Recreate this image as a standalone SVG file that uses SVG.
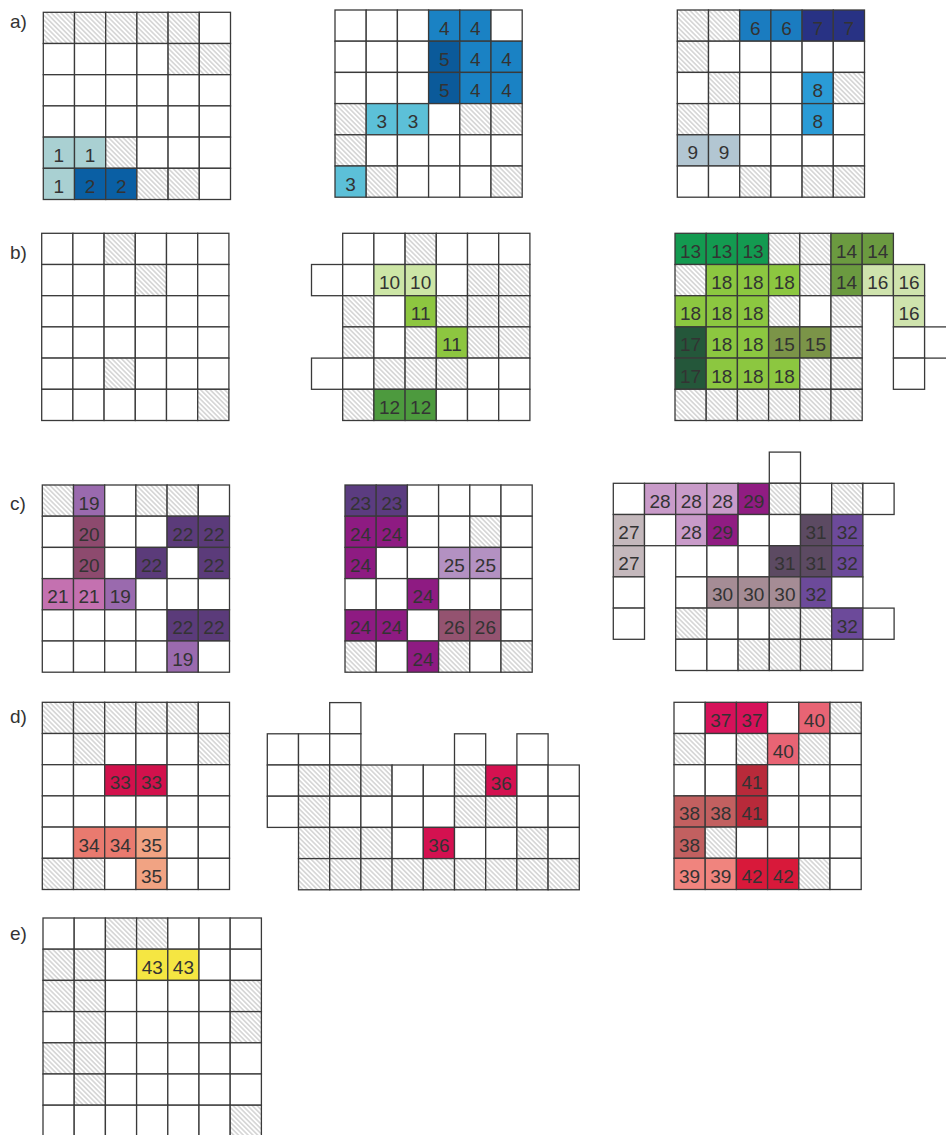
<svg xmlns="http://www.w3.org/2000/svg" width="946" height="1135" viewBox="0 0 946 1135">
<style>
.grid rect{stroke:#3a3a3a;stroke-width:1.3}
.w{fill:#fff}.h{fill:url(#hatch)}
.k1{fill:#a9d0d2}.k2{fill:#0a5fa4}.k3{fill:#5cc0d8}.k4{fill:#1a82c4}.k5{fill:#0b5a9a}
.k6{fill:#1a7cc0}.k7{fill:#283284}.k8{fill:#2a9bd6}.k9{fill:#b2c6d2}
.k10{fill:#cde6a6}.k11{fill:#8dc640}.k12{fill:#4d9a3e}.k13{fill:#139a50}.k14{fill:#6b9a40}
.k15{fill:#7b9448}.k16{fill:#cfe3ad}.k17{fill:#24573a}.k18{fill:#8cc740}
.k19{fill:#9a6aae}.k20{fill:#8d4a6e}.k21{fill:#c471b0}.k22{fill:#5b3b7a}.k23{fill:#5b3c80}
.k24{fill:#8e1b82}.k25{fill:#b391c2}.k26{fill:#945370}.k27{fill:#c4b8bc}.k28{fill:#c99bc9}
.k29{fill:#901c82}.k30{fill:#a58c95}.k31{fill:#5c4a62}.k32{fill:#6c4a9a}
.k33{fill:#d2114c}.k34{fill:#e97a6f}.k35{fill:#f1a383}.k36{fill:#d41150}.k37{fill:#d6125a}
.k38{fill:#c26060}.k39{fill:#f0847e}.k40{fill:#e86474}.k41{fill:#b82a3a}.k42{fill:#d8193a}
.k43{fill:#f5e642}
text{font-family:"Liberation Sans",Arial,sans-serif;fill:#333}
.n{font-size:19px;text-anchor:middle}
.lb{font-size:19px}
</style>
<defs>
<pattern id="hatch" width="3.4" height="3.4" patternUnits="userSpaceOnUse" patternTransform="rotate(45)">
<rect width="3.4" height="3.4" fill="#fff"/>
<line x1="0" y1="1.7" x2="3.4" y2="1.7" stroke="#b4b4b4" stroke-width="0.9"/>
</pattern>
</defs>
<rect width="946" height="1135" fill="#fff"/>

<g id="labels">
<text class="lb" x="10" y="28">a)</text>
<text class="lb" x="10" y="259">b)</text>
<text class="lb" x="10" y="510">c)</text>
<text class="lb" x="10" y="723">d)</text>
<text class="lb" x="10" y="940">e)</text>
</g>

<g id="grid-a1" class="grid" transform="translate(43.3,12.3)">
<rect class="h" x="0" y="0" width="31.2" height="31.2"/><rect class="h" x="31.2" y="0" width="31.2" height="31.2"/><rect class="h" x="62.4" y="0" width="31.2" height="31.2"/><rect class="h" x="93.6" y="0" width="31.2" height="31.2"/><rect class="h" x="124.8" y="0" width="31.2" height="31.2"/><rect class="w" x="156" y="0" width="31.2" height="31.2"/>
<rect class="w" x="0" y="31.2" width="31.2" height="31.2"/><rect class="w" x="31.2" y="31.2" width="31.2" height="31.2"/><rect class="w" x="62.4" y="31.2" width="31.2" height="31.2"/><rect class="w" x="93.6" y="31.2" width="31.2" height="31.2"/><rect class="h" x="124.8" y="31.2" width="31.2" height="31.2"/><rect class="h" x="156" y="31.2" width="31.2" height="31.2"/>
<rect class="w" x="0" y="62.4" width="31.2" height="31.2"/><rect class="w" x="31.2" y="62.4" width="31.2" height="31.2"/><rect class="w" x="62.4" y="62.4" width="31.2" height="31.2"/><rect class="w" x="93.6" y="62.4" width="31.2" height="31.2"/><rect class="w" x="124.8" y="62.4" width="31.2" height="31.2"/><rect class="w" x="156" y="62.4" width="31.2" height="31.2"/>
<rect class="w" x="0" y="93.6" width="31.2" height="31.2"/><rect class="w" x="31.2" y="93.6" width="31.2" height="31.2"/><rect class="w" x="62.4" y="93.6" width="31.2" height="31.2"/><rect class="w" x="93.6" y="93.6" width="31.2" height="31.2"/><rect class="w" x="124.8" y="93.6" width="31.2" height="31.2"/><rect class="w" x="156" y="93.6" width="31.2" height="31.2"/>
<rect class="k1" x="0" y="124.8" width="31.2" height="31.2"/><rect class="k1" x="31.2" y="124.8" width="31.2" height="31.2"/><rect class="h" x="62.4" y="124.8" width="31.2" height="31.2"/><rect class="w" x="93.6" y="124.8" width="31.2" height="31.2"/><rect class="w" x="124.8" y="124.8" width="31.2" height="31.2"/><rect class="w" x="156" y="124.8" width="31.2" height="31.2"/>
<rect class="k1" x="0" y="156" width="31.2" height="31.2"/><rect class="k2" x="31.2" y="156" width="31.2" height="31.2"/><rect class="k2" x="62.4" y="156" width="31.2" height="31.2"/><rect class="h" x="93.6" y="156" width="31.2" height="31.2"/><rect class="h" x="124.8" y="156" width="31.2" height="31.2"/><rect class="w" x="156" y="156" width="31.2" height="31.2"/>
<text class="n" x="15.6" y="149.3">1</text><text class="n" x="46.8" y="149.3">1</text><text class="n" x="15.6" y="180.5">1</text><text class="n" x="46.8" y="180.5">2</text><text class="n" x="78" y="180.5">2</text>
</g>

<g id="grid-a2" class="grid" transform="translate(335,10)">
<rect class="w" x="0" y="0" width="31.2" height="31.2"/><rect class="w" x="31.2" y="0" width="31.2" height="31.2"/><rect class="w" x="62.4" y="0" width="31.2" height="31.2"/><rect class="k4" x="93.6" y="0" width="31.2" height="31.2"/><rect class="k4" x="124.8" y="0" width="31.2" height="31.2"/><rect class="w" x="156" y="0" width="31.2" height="31.2"/>
<rect class="w" x="0" y="31.2" width="31.2" height="31.2"/><rect class="w" x="31.2" y="31.2" width="31.2" height="31.2"/><rect class="w" x="62.4" y="31.2" width="31.2" height="31.2"/><rect class="k5" x="93.6" y="31.2" width="31.2" height="31.2"/><rect class="k4" x="124.8" y="31.2" width="31.2" height="31.2"/><rect class="k4" x="156" y="31.2" width="31.2" height="31.2"/>
<rect class="w" x="0" y="62.4" width="31.2" height="31.2"/><rect class="w" x="31.2" y="62.4" width="31.2" height="31.2"/><rect class="w" x="62.4" y="62.4" width="31.2" height="31.2"/><rect class="k5" x="93.6" y="62.4" width="31.2" height="31.2"/><rect class="k4" x="124.8" y="62.4" width="31.2" height="31.2"/><rect class="k4" x="156" y="62.4" width="31.2" height="31.2"/>
<rect class="h" x="0" y="93.6" width="31.2" height="31.2"/><rect class="k3" x="31.2" y="93.6" width="31.2" height="31.2"/><rect class="k3" x="62.4" y="93.6" width="31.2" height="31.2"/><rect class="w" x="93.6" y="93.6" width="31.2" height="31.2"/><rect class="h" x="124.8" y="93.6" width="31.2" height="31.2"/><rect class="h" x="156" y="93.6" width="31.2" height="31.2"/>
<rect class="h" x="0" y="124.8" width="31.2" height="31.2"/><rect class="w" x="31.2" y="124.8" width="31.2" height="31.2"/><rect class="w" x="62.4" y="124.8" width="31.2" height="31.2"/><rect class="w" x="93.6" y="124.8" width="31.2" height="31.2"/><rect class="w" x="124.8" y="124.8" width="31.2" height="31.2"/><rect class="w" x="156" y="124.8" width="31.2" height="31.2"/>
<rect class="k3" x="0" y="156" width="31.2" height="31.2"/><rect class="h" x="31.2" y="156" width="31.2" height="31.2"/><rect class="w" x="62.4" y="156" width="31.2" height="31.2"/><rect class="w" x="93.6" y="156" width="31.2" height="31.2"/><rect class="w" x="124.8" y="156" width="31.2" height="31.2"/><rect class="h" x="156" y="156" width="31.2" height="31.2"/>
<text class="n" x="109.2" y="24.5">4</text><text class="n" x="140.4" y="24.5">4</text>
<text class="n" x="109.2" y="55.7">5</text><text class="n" x="140.4" y="55.7">4</text><text class="n" x="171.6" y="55.7">4</text>
<text class="n" x="109.2" y="86.9">5</text><text class="n" x="140.4" y="86.9">4</text><text class="n" x="171.6" y="86.9">4</text>
<text class="n" x="46.8" y="118.1">3</text><text class="n" x="78" y="118.1">3</text>
<text class="n" x="15.6" y="180.5">3</text>
</g>

<g id="grid-a3" class="grid" transform="translate(677.3,10)">
<rect class="h" x="0" y="0" width="31.2" height="31.2"/><rect class="h" x="31.2" y="0" width="31.2" height="31.2"/><rect class="k6" x="62.4" y="0" width="31.2" height="31.2"/><rect class="k6" x="93.6" y="0" width="31.2" height="31.2"/><rect class="k7" x="124.8" y="0" width="31.2" height="31.2"/><rect class="k7" x="156" y="0" width="31.2" height="31.2"/>
<rect class="h" x="0" y="31.2" width="31.2" height="31.2"/><rect class="w" x="31.2" y="31.2" width="31.2" height="31.2"/><rect class="w" x="62.4" y="31.2" width="31.2" height="31.2"/><rect class="w" x="93.6" y="31.2" width="31.2" height="31.2"/><rect class="w" x="124.8" y="31.2" width="31.2" height="31.2"/><rect class="w" x="156" y="31.2" width="31.2" height="31.2"/>
<rect class="w" x="0" y="62.4" width="31.2" height="31.2"/><rect class="h" x="31.2" y="62.4" width="31.2" height="31.2"/><rect class="w" x="62.4" y="62.4" width="31.2" height="31.2"/><rect class="w" x="93.6" y="62.4" width="31.2" height="31.2"/><rect class="k8" x="124.8" y="62.4" width="31.2" height="31.2"/><rect class="h" x="156" y="62.4" width="31.2" height="31.2"/>
<rect class="h" x="0" y="93.6" width="31.2" height="31.2"/><rect class="w" x="31.2" y="93.6" width="31.2" height="31.2"/><rect class="w" x="62.4" y="93.6" width="31.2" height="31.2"/><rect class="w" x="93.6" y="93.6" width="31.2" height="31.2"/><rect class="k8" x="124.8" y="93.6" width="31.2" height="31.2"/><rect class="w" x="156" y="93.6" width="31.2" height="31.2"/>
<rect class="k9" x="0" y="124.8" width="31.2" height="31.2"/><rect class="k9" x="31.2" y="124.8" width="31.2" height="31.2"/><rect class="w" x="62.4" y="124.8" width="31.2" height="31.2"/><rect class="w" x="93.6" y="124.8" width="31.2" height="31.2"/><rect class="w" x="124.8" y="124.8" width="31.2" height="31.2"/><rect class="w" x="156" y="124.8" width="31.2" height="31.2"/>
<rect class="w" x="0" y="156" width="31.2" height="31.2"/><rect class="w" x="31.2" y="156" width="31.2" height="31.2"/><rect class="h" x="62.4" y="156" width="31.2" height="31.2"/><rect class="w" x="93.6" y="156" width="31.2" height="31.2"/><rect class="h" x="124.8" y="156" width="31.2" height="31.2"/><rect class="h" x="156" y="156" width="31.2" height="31.2"/>
<text class="n" x="78" y="24.5">6</text><text class="n" x="109.2" y="24.5">6</text><text class="n" x="140.4" y="24.5">7</text><text class="n" x="171.6" y="24.5">7</text>
<text class="n" x="140.4" y="86.9">8</text><text class="n" x="140.4" y="118.1">8</text>
<text class="n" x="15.6" y="149.3">9</text><text class="n" x="46.8" y="149.3">9</text>
</g>

<g id="grid-b1" class="grid" transform="translate(41.7,233.3)">
<rect class="w" x="0" y="0" width="31.2" height="31.2"/><rect class="w" x="31.2" y="0" width="31.2" height="31.2"/><rect class="h" x="62.4" y="0" width="31.2" height="31.2"/><rect class="w" x="93.6" y="0" width="31.2" height="31.2"/><rect class="w" x="124.8" y="0" width="31.2" height="31.2"/><rect class="w" x="156" y="0" width="31.2" height="31.2"/>
<rect class="w" x="0" y="31.2" width="31.2" height="31.2"/><rect class="w" x="31.2" y="31.2" width="31.2" height="31.2"/><rect class="w" x="62.4" y="31.2" width="31.2" height="31.2"/><rect class="h" x="93.6" y="31.2" width="31.2" height="31.2"/><rect class="w" x="124.8" y="31.2" width="31.2" height="31.2"/><rect class="w" x="156" y="31.2" width="31.2" height="31.2"/>
<rect class="w" x="0" y="62.4" width="31.2" height="31.2"/><rect class="w" x="31.2" y="62.4" width="31.2" height="31.2"/><rect class="w" x="62.4" y="62.4" width="31.2" height="31.2"/><rect class="w" x="93.6" y="62.4" width="31.2" height="31.2"/><rect class="w" x="124.8" y="62.4" width="31.2" height="31.2"/><rect class="w" x="156" y="62.4" width="31.2" height="31.2"/>
<rect class="w" x="0" y="93.6" width="31.2" height="31.2"/><rect class="w" x="31.2" y="93.6" width="31.2" height="31.2"/><rect class="w" x="62.4" y="93.6" width="31.2" height="31.2"/><rect class="w" x="93.6" y="93.6" width="31.2" height="31.2"/><rect class="w" x="124.8" y="93.6" width="31.2" height="31.2"/><rect class="w" x="156" y="93.6" width="31.2" height="31.2"/>
<rect class="w" x="0" y="124.8" width="31.2" height="31.2"/><rect class="w" x="31.2" y="124.8" width="31.2" height="31.2"/><rect class="h" x="62.4" y="124.8" width="31.2" height="31.2"/><rect class="w" x="93.6" y="124.8" width="31.2" height="31.2"/><rect class="w" x="124.8" y="124.8" width="31.2" height="31.2"/><rect class="w" x="156" y="124.8" width="31.2" height="31.2"/>
<rect class="w" x="0" y="156" width="31.2" height="31.2"/><rect class="w" x="31.2" y="156" width="31.2" height="31.2"/><rect class="w" x="62.4" y="156" width="31.2" height="31.2"/><rect class="w" x="93.6" y="156" width="31.2" height="31.2"/><rect class="w" x="124.8" y="156" width="31.2" height="31.2"/><rect class="h" x="156" y="156" width="31.2" height="31.2"/>
</g>

<g id="grid-b2" class="grid" transform="translate(342.7,233.3)">
<rect class="w" x="0" y="0" width="31.2" height="31.2"/><rect class="w" x="31.2" y="0" width="31.2" height="31.2"/><rect class="h" x="62.4" y="0" width="31.2" height="31.2"/><rect class="w" x="93.6" y="0" width="31.2" height="31.2"/><rect class="w" x="124.8" y="0" width="31.2" height="31.2"/><rect class="w" x="156" y="0" width="31.2" height="31.2"/>
<rect class="w" x="-31.2" y="31.2" width="31.2" height="31.2"/><rect class="w" x="0" y="31.2" width="31.2" height="31.2"/><rect class="k10" x="31.2" y="31.2" width="31.2" height="31.2"/><rect class="k10" x="62.4" y="31.2" width="31.2" height="31.2"/><rect class="w" x="93.6" y="31.2" width="31.2" height="31.2"/><rect class="h" x="124.8" y="31.2" width="31.2" height="31.2"/><rect class="h" x="156" y="31.2" width="31.2" height="31.2"/>
<rect class="h" x="0" y="62.4" width="31.2" height="31.2"/><rect class="w" x="31.2" y="62.4" width="31.2" height="31.2"/><rect class="k11" x="62.4" y="62.4" width="31.2" height="31.2"/><rect class="h" x="93.6" y="62.4" width="31.2" height="31.2"/><rect class="h" x="124.8" y="62.4" width="31.2" height="31.2"/><rect class="h" x="156" y="62.4" width="31.2" height="31.2"/>
<rect class="h" x="0" y="93.6" width="31.2" height="31.2"/><rect class="w" x="31.2" y="93.6" width="31.2" height="31.2"/><rect class="h" x="62.4" y="93.6" width="31.2" height="31.2"/><rect class="k11" x="93.6" y="93.6" width="31.2" height="31.2"/><rect class="h" x="124.8" y="93.6" width="31.2" height="31.2"/><rect class="h" x="156" y="93.6" width="31.2" height="31.2"/>
<rect class="w" x="-31.2" y="124.8" width="31.2" height="31.2"/><rect class="w" x="0" y="124.8" width="31.2" height="31.2"/><rect class="h" x="31.2" y="124.8" width="31.2" height="31.2"/><rect class="h" x="62.4" y="124.8" width="31.2" height="31.2"/><rect class="h" x="93.6" y="124.8" width="31.2" height="31.2"/><rect class="w" x="124.8" y="124.8" width="31.2" height="31.2"/><rect class="w" x="156" y="124.8" width="31.2" height="31.2"/>
<rect class="h" x="0" y="156" width="31.2" height="31.2"/><rect class="k12" x="31.2" y="156" width="31.2" height="31.2"/><rect class="k12" x="62.4" y="156" width="31.2" height="31.2"/><rect class="w" x="93.6" y="156" width="31.2" height="31.2"/><rect class="w" x="124.8" y="156" width="31.2" height="31.2"/><rect class="w" x="156" y="156" width="31.2" height="31.2"/>
<text class="n" x="46.8" y="55.7">10</text><text class="n" x="78" y="55.7">10</text>
<text class="n" x="78" y="86.9">11</text><text class="n" x="109.2" y="118.1">11</text>
<text class="n" x="46.8" y="180.5">12</text><text class="n" x="78" y="180.5">12</text>
</g>

<g id="grid-b3" class="grid" transform="translate(675,233.3)">
<rect class="k13" x="0" y="0" width="31.2" height="31.2"/><rect class="k13" x="31.2" y="0" width="31.2" height="31.2"/><rect class="k13" x="62.4" y="0" width="31.2" height="31.2"/><rect class="h" x="93.6" y="0" width="31.2" height="31.2"/><rect class="h" x="124.8" y="0" width="31.2" height="31.2"/><rect class="k14" x="156" y="0" width="31.2" height="31.2"/><rect class="k14" x="187.2" y="0" width="31.2" height="31.2"/>
<rect class="h" x="0" y="31.2" width="31.2" height="31.2"/><rect class="k18" x="31.2" y="31.2" width="31.2" height="31.2"/><rect class="k18" x="62.4" y="31.2" width="31.2" height="31.2"/><rect class="k18" x="93.6" y="31.2" width="31.2" height="31.2"/><rect class="h" x="124.8" y="31.2" width="31.2" height="31.2"/><rect class="k14" x="156" y="31.2" width="31.2" height="31.2"/><rect class="k16" x="187.2" y="31.2" width="31.2" height="31.2"/><rect class="k16" x="218.4" y="31.2" width="31.2" height="31.2"/>
<rect class="k18" x="0" y="62.4" width="31.2" height="31.2"/><rect class="k18" x="31.2" y="62.4" width="31.2" height="31.2"/><rect class="k18" x="62.4" y="62.4" width="31.2" height="31.2"/><rect class="h" x="93.6" y="62.4" width="31.2" height="31.2"/><rect class="w" x="124.8" y="62.4" width="31.2" height="31.2"/><rect class="h" x="156" y="62.4" width="31.2" height="31.2"/><rect class="k16" x="218.4" y="62.4" width="31.2" height="31.2"/>
<rect class="k17" x="0" y="93.6" width="31.2" height="31.2"/><rect class="k18" x="31.2" y="93.6" width="31.2" height="31.2"/><rect class="k18" x="62.4" y="93.6" width="31.2" height="31.2"/><rect class="k15" x="93.6" y="93.6" width="31.2" height="31.2"/><rect class="k15" x="124.8" y="93.6" width="31.2" height="31.2"/><rect class="h" x="156" y="93.6" width="31.2" height="31.2"/><rect class="w" x="218.4" y="93.6" width="31.2" height="31.2"/><rect class="w" x="249.6" y="93.6" width="31.2" height="31.2"/>
<rect class="k17" x="0" y="124.8" width="31.2" height="31.2"/><rect class="k18" x="31.2" y="124.8" width="31.2" height="31.2"/><rect class="k18" x="62.4" y="124.8" width="31.2" height="31.2"/><rect class="k18" x="93.6" y="124.8" width="31.2" height="31.2"/><rect class="h" x="124.8" y="124.8" width="31.2" height="31.2"/><rect class="h" x="156" y="124.8" width="31.2" height="31.2"/><rect class="w" x="218.4" y="124.8" width="31.2" height="31.2"/>
<rect class="h" x="0" y="156" width="31.2" height="31.2"/><rect class="h" x="31.2" y="156" width="31.2" height="31.2"/><rect class="h" x="62.4" y="156" width="31.2" height="31.2"/><rect class="h" x="93.6" y="156" width="31.2" height="31.2"/><rect class="h" x="124.8" y="156" width="31.2" height="31.2"/><rect class="h" x="156" y="156" width="31.2" height="31.2"/>
<text class="n" x="15.6" y="24.5">13</text><text class="n" x="46.8" y="24.5">13</text><text class="n" x="78" y="24.5">13</text><text class="n" x="171.6" y="24.5">14</text><text class="n" x="202.8" y="24.5">14</text>
<text class="n" x="46.8" y="55.7">18</text><text class="n" x="78" y="55.7">18</text><text class="n" x="109.2" y="55.7">18</text><text class="n" x="171.6" y="55.7">14</text><text class="n" x="202.8" y="55.7">16</text><text class="n" x="234" y="55.7">16</text>
<text class="n" x="15.6" y="86.9">18</text><text class="n" x="46.8" y="86.9">18</text><text class="n" x="78" y="86.9">18</text><text class="n" x="234" y="86.9">16</text>
<text class="n" x="15.6" y="118.1">17</text><text class="n" x="46.8" y="118.1">18</text><text class="n" x="78" y="118.1">18</text><text class="n" x="109.2" y="118.1">15</text><text class="n" x="140.4" y="118.1">15</text>
<text class="n" x="15.6" y="149.3">17</text><text class="n" x="46.8" y="149.3">18</text><text class="n" x="78" y="149.3">18</text><text class="n" x="109.2" y="149.3">18</text>
</g>

<g id="grid-c1" class="grid" transform="translate(42.3,485)">
<rect class="h" x="0" y="0" width="31.2" height="31.2"/><rect class="k19" x="31.2" y="0" width="31.2" height="31.2"/><rect class="w" x="62.4" y="0" width="31.2" height="31.2"/><rect class="h" x="93.6" y="0" width="31.2" height="31.2"/><rect class="h" x="124.8" y="0" width="31.2" height="31.2"/><rect class="w" x="156" y="0" width="31.2" height="31.2"/>
<rect class="w" x="0" y="31.2" width="31.2" height="31.2"/><rect class="k20" x="31.2" y="31.2" width="31.2" height="31.2"/><rect class="w" x="62.4" y="31.2" width="31.2" height="31.2"/><rect class="w" x="93.6" y="31.2" width="31.2" height="31.2"/><rect class="k22" x="124.8" y="31.2" width="31.2" height="31.2"/><rect class="k22" x="156" y="31.2" width="31.2" height="31.2"/>
<rect class="w" x="0" y="62.4" width="31.2" height="31.2"/><rect class="k20" x="31.2" y="62.4" width="31.2" height="31.2"/><rect class="w" x="62.4" y="62.4" width="31.2" height="31.2"/><rect class="k22" x="93.6" y="62.4" width="31.2" height="31.2"/><rect class="w" x="124.8" y="62.4" width="31.2" height="31.2"/><rect class="k22" x="156" y="62.4" width="31.2" height="31.2"/>
<rect class="k21" x="0" y="93.6" width="31.2" height="31.2"/><rect class="k21" x="31.2" y="93.6" width="31.2" height="31.2"/><rect class="k19" x="62.4" y="93.6" width="31.2" height="31.2"/><rect class="w" x="93.6" y="93.6" width="31.2" height="31.2"/><rect class="w" x="124.8" y="93.6" width="31.2" height="31.2"/><rect class="w" x="156" y="93.6" width="31.2" height="31.2"/>
<rect class="w" x="0" y="124.8" width="31.2" height="31.2"/><rect class="w" x="31.2" y="124.8" width="31.2" height="31.2"/><rect class="w" x="62.4" y="124.8" width="31.2" height="31.2"/><rect class="w" x="93.6" y="124.8" width="31.2" height="31.2"/><rect class="k22" x="124.8" y="124.8" width="31.2" height="31.2"/><rect class="k22" x="156" y="124.8" width="31.2" height="31.2"/>
<rect class="w" x="0" y="156" width="31.2" height="31.2"/><rect class="w" x="31.2" y="156" width="31.2" height="31.2"/><rect class="w" x="62.4" y="156" width="31.2" height="31.2"/><rect class="w" x="93.6" y="156" width="31.2" height="31.2"/><rect class="k19" x="124.8" y="156" width="31.2" height="31.2"/><rect class="w" x="156" y="156" width="31.2" height="31.2"/>
<text class="n" x="46.8" y="24.5">19</text>
<text class="n" x="46.8" y="55.7">20</text><text class="n" x="140.4" y="55.7">22</text><text class="n" x="171.6" y="55.7">22</text>
<text class="n" x="46.8" y="86.9">20</text><text class="n" x="109.2" y="86.9">22</text><text class="n" x="171.6" y="86.9">22</text>
<text class="n" x="15.6" y="118.1">21</text><text class="n" x="46.8" y="118.1">21</text><text class="n" x="78" y="118.1">19</text>
<text class="n" x="140.4" y="149.3">22</text><text class="n" x="171.6" y="149.3">22</text>
<text class="n" x="140.4" y="180.5">19</text>
</g>

<g id="grid-c2" class="grid" transform="translate(345,485)">
<rect class="k23" x="0" y="0" width="31.2" height="31.2"/><rect class="k23" x="31.2" y="0" width="31.2" height="31.2"/><rect class="w" x="62.4" y="0" width="31.2" height="31.2"/><rect class="w" x="93.6" y="0" width="31.2" height="31.2"/><rect class="w" x="124.8" y="0" width="31.2" height="31.2"/><rect class="w" x="156" y="0" width="31.2" height="31.2"/>
<rect class="k24" x="0" y="31.2" width="31.2" height="31.2"/><rect class="k24" x="31.2" y="31.2" width="31.2" height="31.2"/><rect class="w" x="62.4" y="31.2" width="31.2" height="31.2"/><rect class="w" x="93.6" y="31.2" width="31.2" height="31.2"/><rect class="h" x="124.8" y="31.2" width="31.2" height="31.2"/><rect class="w" x="156" y="31.2" width="31.2" height="31.2"/>
<rect class="k24" x="0" y="62.4" width="31.2" height="31.2"/><rect class="w" x="31.2" y="62.4" width="31.2" height="31.2"/><rect class="w" x="62.4" y="62.4" width="31.2" height="31.2"/><rect class="k25" x="93.6" y="62.4" width="31.2" height="31.2"/><rect class="k25" x="124.8" y="62.4" width="31.2" height="31.2"/><rect class="w" x="156" y="62.4" width="31.2" height="31.2"/>
<rect class="w" x="0" y="93.6" width="31.2" height="31.2"/><rect class="w" x="31.2" y="93.6" width="31.2" height="31.2"/><rect class="k24" x="62.4" y="93.6" width="31.2" height="31.2"/><rect class="w" x="93.6" y="93.6" width="31.2" height="31.2"/><rect class="w" x="124.8" y="93.6" width="31.2" height="31.2"/><rect class="w" x="156" y="93.6" width="31.2" height="31.2"/>
<rect class="k24" x="0" y="124.8" width="31.2" height="31.2"/><rect class="k24" x="31.2" y="124.8" width="31.2" height="31.2"/><rect class="w" x="62.4" y="124.8" width="31.2" height="31.2"/><rect class="k26" x="93.6" y="124.8" width="31.2" height="31.2"/><rect class="k26" x="124.8" y="124.8" width="31.2" height="31.2"/><rect class="w" x="156" y="124.8" width="31.2" height="31.2"/>
<rect class="h" x="0" y="156" width="31.2" height="31.2"/><rect class="w" x="31.2" y="156" width="31.2" height="31.2"/><rect class="k24" x="62.4" y="156" width="31.2" height="31.2"/><rect class="h" x="93.6" y="156" width="31.2" height="31.2"/><rect class="w" x="124.8" y="156" width="31.2" height="31.2"/><rect class="h" x="156" y="156" width="31.2" height="31.2"/>
<text class="n" x="15.6" y="24.5">23</text><text class="n" x="46.8" y="24.5">23</text>
<text class="n" x="15.6" y="55.7">24</text><text class="n" x="46.8" y="55.7">24</text>
<text class="n" x="15.6" y="86.9">24</text><text class="n" x="109.2" y="86.9">25</text><text class="n" x="140.4" y="86.9">25</text>
<text class="n" x="78" y="118.1">24</text>
<text class="n" x="15.6" y="149.3">24</text><text class="n" x="46.8" y="149.3">24</text><text class="n" x="109.2" y="149.3">26</text><text class="n" x="140.4" y="149.3">26</text>
<text class="n" x="78" y="180.5">24</text>
</g>

<g id="grid-c3" class="grid" transform="translate(613.3,483.3)">
<rect class="w" x="156" y="-31.2" width="31.2" height="31.2"/>
<rect class="w" x="0" y="0" width="31.2" height="31.2"/><rect class="k28" x="31.2" y="0" width="31.2" height="31.2"/><rect class="k28" x="62.4" y="0" width="31.2" height="31.2"/><rect class="k28" x="93.6" y="0" width="31.2" height="31.2"/><rect class="k29" x="124.8" y="0" width="31.2" height="31.2"/><rect class="h" x="156" y="0" width="31.2" height="31.2"/><rect class="w" x="187.2" y="0" width="31.2" height="31.2"/><rect class="h" x="218.4" y="0" width="31.2" height="31.2"/><rect class="w" x="249.6" y="0" width="31.2" height="31.2"/>
<rect class="k27" x="0" y="31.2" width="31.2" height="31.2"/><rect class="w" x="31.2" y="31.2" width="31.2" height="31.2"/><rect class="k28" x="62.4" y="31.2" width="31.2" height="31.2"/><rect class="k29" x="93.6" y="31.2" width="31.2" height="31.2"/><rect class="w" x="124.8" y="31.2" width="31.2" height="31.2"/><rect class="w" x="156" y="31.2" width="31.2" height="31.2"/><rect class="k31" x="187.2" y="31.2" width="31.2" height="31.2"/><rect class="k32" x="218.4" y="31.2" width="31.2" height="31.2"/>
<rect class="k27" x="0" y="62.4" width="31.2" height="31.2"/><rect class="w" x="62.4" y="62.4" width="31.2" height="31.2"/><rect class="w" x="93.6" y="62.4" width="31.2" height="31.2"/><rect class="w" x="124.8" y="62.4" width="31.2" height="31.2"/><rect class="k31" x="156" y="62.4" width="31.2" height="31.2"/><rect class="k31" x="187.2" y="62.4" width="31.2" height="31.2"/><rect class="k32" x="218.4" y="62.4" width="31.2" height="31.2"/>
<rect class="w" x="0" y="93.6" width="31.2" height="31.2"/><rect class="w" x="62.4" y="93.6" width="31.2" height="31.2"/><rect class="k30" x="93.6" y="93.6" width="31.2" height="31.2"/><rect class="k30" x="124.8" y="93.6" width="31.2" height="31.2"/><rect class="k30" x="156" y="93.6" width="31.2" height="31.2"/><rect class="k32" x="187.2" y="93.6" width="31.2" height="31.2"/><rect class="w" x="218.4" y="93.6" width="31.2" height="31.2"/>
<rect class="w" x="0" y="124.8" width="31.2" height="31.2"/><rect class="h" x="62.4" y="124.8" width="31.2" height="31.2"/><rect class="w" x="93.6" y="124.8" width="31.2" height="31.2"/><rect class="w" x="124.8" y="124.8" width="31.2" height="31.2"/><rect class="h" x="156" y="124.8" width="31.2" height="31.2"/><rect class="h" x="187.2" y="124.8" width="31.2" height="31.2"/><rect class="k32" x="218.4" y="124.8" width="31.2" height="31.2"/><rect class="w" x="249.6" y="124.8" width="31.2" height="31.2"/>
<rect class="w" x="62.4" y="156" width="31.2" height="31.2"/><rect class="w" x="93.6" y="156" width="31.2" height="31.2"/><rect class="h" x="124.8" y="156" width="31.2" height="31.2"/><rect class="h" x="156" y="156" width="31.2" height="31.2"/><rect class="h" x="187.2" y="156" width="31.2" height="31.2"/><rect class="w" x="218.4" y="156" width="31.2" height="31.2"/>
<text class="n" x="46.8" y="24.5">28</text><text class="n" x="78" y="24.5">28</text><text class="n" x="109.2" y="24.5">28</text><text class="n" x="140.4" y="24.5">29</text>
<text class="n" x="15.6" y="55.7">27</text><text class="n" x="78" y="55.7">28</text><text class="n" x="109.2" y="55.7">29</text><text class="n" x="202.8" y="55.7">31</text><text class="n" x="234" y="55.7">32</text>
<text class="n" x="15.6" y="86.9">27</text><text class="n" x="171.6" y="86.9">31</text><text class="n" x="202.8" y="86.9">31</text><text class="n" x="234" y="86.9">32</text>
<text class="n" x="109.2" y="118.1">30</text><text class="n" x="140.4" y="118.1">30</text><text class="n" x="171.6" y="118.1">30</text><text class="n" x="202.8" y="118.1">32</text>
<text class="n" x="234" y="149.3">32</text>
</g>

<g id="grid-d1" class="grid" transform="translate(42.3,702.3)">
<rect class="h" x="0" y="0" width="31.2" height="31.2"/><rect class="h" x="31.2" y="0" width="31.2" height="31.2"/><rect class="h" x="62.4" y="0" width="31.2" height="31.2"/><rect class="h" x="93.6" y="0" width="31.2" height="31.2"/><rect class="h" x="124.8" y="0" width="31.2" height="31.2"/><rect class="w" x="156" y="0" width="31.2" height="31.2"/>
<rect class="w" x="0" y="31.2" width="31.2" height="31.2"/><rect class="h" x="31.2" y="31.2" width="31.2" height="31.2"/><rect class="w" x="62.4" y="31.2" width="31.2" height="31.2"/><rect class="w" x="93.6" y="31.2" width="31.2" height="31.2"/><rect class="w" x="124.8" y="31.2" width="31.2" height="31.2"/><rect class="h" x="156" y="31.2" width="31.2" height="31.2"/>
<rect class="w" x="0" y="62.4" width="31.2" height="31.2"/><rect class="w" x="31.2" y="62.4" width="31.2" height="31.2"/><rect class="k33" x="62.4" y="62.4" width="31.2" height="31.2"/><rect class="k33" x="93.6" y="62.4" width="31.2" height="31.2"/><rect class="w" x="124.8" y="62.4" width="31.2" height="31.2"/><rect class="w" x="156" y="62.4" width="31.2" height="31.2"/>
<rect class="w" x="0" y="93.6" width="31.2" height="31.2"/><rect class="w" x="31.2" y="93.6" width="31.2" height="31.2"/><rect class="w" x="62.4" y="93.6" width="31.2" height="31.2"/><rect class="w" x="93.6" y="93.6" width="31.2" height="31.2"/><rect class="w" x="124.8" y="93.6" width="31.2" height="31.2"/><rect class="w" x="156" y="93.6" width="31.2" height="31.2"/>
<rect class="w" x="0" y="124.8" width="31.2" height="31.2"/><rect class="k34" x="31.2" y="124.8" width="31.2" height="31.2"/><rect class="k34" x="62.4" y="124.8" width="31.2" height="31.2"/><rect class="k35" x="93.6" y="124.8" width="31.2" height="31.2"/><rect class="w" x="124.8" y="124.8" width="31.2" height="31.2"/><rect class="w" x="156" y="124.8" width="31.2" height="31.2"/>
<rect class="h" x="0" y="156" width="31.2" height="31.2"/><rect class="h" x="31.2" y="156" width="31.2" height="31.2"/><rect class="w" x="62.4" y="156" width="31.2" height="31.2"/><rect class="k35" x="93.6" y="156" width="31.2" height="31.2"/><rect class="w" x="124.8" y="156" width="31.2" height="31.2"/><rect class="w" x="156" y="156" width="31.2" height="31.2"/>
<text class="n" x="78" y="86.9">33</text><text class="n" x="109.2" y="86.9">33</text>
<text class="n" x="46.8" y="149.3">34</text><text class="n" x="78" y="149.3">34</text><text class="n" x="109.2" y="149.3">35</text>
<text class="n" x="109.2" y="180.5">35</text>
</g>

<g id="grid-d2" class="grid" transform="translate(267.3,765)">
<rect class="w" x="62.4" y="-62.4" width="31.2" height="31.2"/>
<rect class="w" x="0" y="-31.2" width="31.2" height="31.2"/><rect class="w" x="31.2" y="-31.2" width="31.2" height="31.2"/><rect class="w" x="62.4" y="-31.2" width="31.2" height="31.2"/><rect class="w" x="187.2" y="-31.2" width="31.2" height="31.2"/><rect class="w" x="249.6" y="-31.2" width="31.2" height="31.2"/>
<rect class="w" x="0" y="0" width="31.2" height="31.2"/><rect class="h" x="31.2" y="0" width="31.2" height="31.2"/><rect class="h" x="62.4" y="0" width="31.2" height="31.2"/><rect class="h" x="93.6" y="0" width="31.2" height="31.2"/><rect class="w" x="124.8" y="0" width="31.2" height="31.2"/><rect class="w" x="156" y="0" width="31.2" height="31.2"/><rect class="h" x="187.2" y="0" width="31.2" height="31.2"/><rect class="k36" x="218.4" y="0" width="31.2" height="31.2"/><rect class="w" x="249.6" y="0" width="31.2" height="31.2"/><rect class="w" x="280.8" y="0" width="31.2" height="31.2"/>
<rect class="w" x="0" y="31.2" width="31.2" height="31.2"/><rect class="h" x="31.2" y="31.2" width="31.2" height="31.2"/><rect class="w" x="62.4" y="31.2" width="31.2" height="31.2"/><rect class="w" x="93.6" y="31.2" width="31.2" height="31.2"/><rect class="w" x="124.8" y="31.2" width="31.2" height="31.2"/><rect class="w" x="156" y="31.2" width="31.2" height="31.2"/><rect class="h" x="187.2" y="31.2" width="31.2" height="31.2"/><rect class="h" x="218.4" y="31.2" width="31.2" height="31.2"/><rect class="w" x="249.6" y="31.2" width="31.2" height="31.2"/><rect class="w" x="280.8" y="31.2" width="31.2" height="31.2"/>
<rect class="h" x="31.2" y="62.4" width="31.2" height="31.2"/><rect class="h" x="62.4" y="62.4" width="31.2" height="31.2"/><rect class="h" x="93.6" y="62.4" width="31.2" height="31.2"/><rect class="w" x="124.8" y="62.4" width="31.2" height="31.2"/><rect class="k36" x="156" y="62.4" width="31.2" height="31.2"/><rect class="w" x="187.2" y="62.4" width="31.2" height="31.2"/><rect class="w" x="218.4" y="62.4" width="31.2" height="31.2"/><rect class="h" x="249.6" y="62.4" width="31.2" height="31.2"/><rect class="w" x="280.8" y="62.4" width="31.2" height="31.2"/>
<rect class="h" x="31.2" y="93.6" width="31.2" height="31.2"/><rect class="h" x="62.4" y="93.6" width="31.2" height="31.2"/><rect class="h" x="93.6" y="93.6" width="31.2" height="31.2"/><rect class="h" x="124.8" y="93.6" width="31.2" height="31.2"/><rect class="h" x="156" y="93.6" width="31.2" height="31.2"/><rect class="h" x="187.2" y="93.6" width="31.2" height="31.2"/><rect class="h" x="218.4" y="93.6" width="31.2" height="31.2"/><rect class="h" x="249.6" y="93.6" width="31.2" height="31.2"/><rect class="h" x="280.8" y="93.6" width="31.2" height="31.2"/>
<text class="n" x="234" y="24.5">36</text><text class="n" x="171.6" y="86.9">36</text>
</g>

<g id="grid-d3" class="grid" transform="translate(674,702.3)">
<rect class="w" x="0" y="0" width="31.2" height="31.2"/><rect class="k37" x="31.2" y="0" width="31.2" height="31.2"/><rect class="k37" x="62.4" y="0" width="31.2" height="31.2"/><rect class="w" x="93.6" y="0" width="31.2" height="31.2"/><rect class="k40" x="124.8" y="0" width="31.2" height="31.2"/><rect class="h" x="156" y="0" width="31.2" height="31.2"/>
<rect class="h" x="0" y="31.2" width="31.2" height="31.2"/><rect class="w" x="31.2" y="31.2" width="31.2" height="31.2"/><rect class="h" x="62.4" y="31.2" width="31.2" height="31.2"/><rect class="k40" x="93.6" y="31.2" width="31.2" height="31.2"/><rect class="h" x="124.8" y="31.2" width="31.2" height="31.2"/><rect class="w" x="156" y="31.2" width="31.2" height="31.2"/>
<rect class="w" x="0" y="62.4" width="31.2" height="31.2"/><rect class="w" x="31.2" y="62.4" width="31.2" height="31.2"/><rect class="k41" x="62.4" y="62.4" width="31.2" height="31.2"/><rect class="w" x="93.6" y="62.4" width="31.2" height="31.2"/><rect class="w" x="124.8" y="62.4" width="31.2" height="31.2"/><rect class="w" x="156" y="62.4" width="31.2" height="31.2"/>
<rect class="k38" x="0" y="93.6" width="31.2" height="31.2"/><rect class="k38" x="31.2" y="93.6" width="31.2" height="31.2"/><rect class="k41" x="62.4" y="93.6" width="31.2" height="31.2"/><rect class="w" x="93.6" y="93.6" width="31.2" height="31.2"/><rect class="w" x="124.8" y="93.6" width="31.2" height="31.2"/><rect class="w" x="156" y="93.6" width="31.2" height="31.2"/>
<rect class="k38" x="0" y="124.8" width="31.2" height="31.2"/><rect class="h" x="31.2" y="124.8" width="31.2" height="31.2"/><rect class="w" x="62.4" y="124.8" width="31.2" height="31.2"/><rect class="w" x="93.6" y="124.8" width="31.2" height="31.2"/><rect class="w" x="124.8" y="124.8" width="31.2" height="31.2"/><rect class="w" x="156" y="124.8" width="31.2" height="31.2"/>
<rect class="k39" x="0" y="156" width="31.2" height="31.2"/><rect class="k39" x="31.2" y="156" width="31.2" height="31.2"/><rect class="k42" x="62.4" y="156" width="31.2" height="31.2"/><rect class="k42" x="93.6" y="156" width="31.2" height="31.2"/><rect class="h" x="124.8" y="156" width="31.2" height="31.2"/><rect class="w" x="156" y="156" width="31.2" height="31.2"/>
<text class="n" x="46.8" y="24.5">37</text><text class="n" x="78" y="24.5">37</text><text class="n" x="140.4" y="24.5">40</text>
<text class="n" x="109.2" y="55.7">40</text>
<text class="n" x="78" y="86.9">41</text>
<text class="n" x="15.6" y="118.1">38</text><text class="n" x="46.8" y="118.1">38</text><text class="n" x="78" y="118.1">41</text>
<text class="n" x="15.6" y="149.3">38</text>
<text class="n" x="15.6" y="180.5">39</text><text class="n" x="46.8" y="180.5">39</text><text class="n" x="78" y="180.5">42</text><text class="n" x="109.2" y="180.5">42</text>
</g>

<g id="grid-e" class="grid" transform="translate(43,918)">
<rect class="w" x="0" y="0" width="31.2" height="31.2"/><rect class="w" x="31.2" y="0" width="31.2" height="31.2"/><rect class="h" x="62.4" y="0" width="31.2" height="31.2"/><rect class="h" x="93.6" y="0" width="31.2" height="31.2"/><rect class="w" x="124.8" y="0" width="31.2" height="31.2"/><rect class="w" x="156" y="0" width="31.2" height="31.2"/><rect class="w" x="187.2" y="0" width="31.2" height="31.2"/>
<rect class="h" x="0" y="31.2" width="31.2" height="31.2"/><rect class="h" x="31.2" y="31.2" width="31.2" height="31.2"/><rect class="w" x="62.4" y="31.2" width="31.2" height="31.2"/><rect class="k43" x="93.6" y="31.2" width="31.2" height="31.2"/><rect class="k43" x="124.8" y="31.2" width="31.2" height="31.2"/><rect class="w" x="156" y="31.2" width="31.2" height="31.2"/><rect class="w" x="187.2" y="31.2" width="31.2" height="31.2"/>
<rect class="h" x="0" y="62.4" width="31.2" height="31.2"/><rect class="h" x="31.2" y="62.4" width="31.2" height="31.2"/><rect class="w" x="62.4" y="62.4" width="31.2" height="31.2"/><rect class="w" x="93.6" y="62.4" width="31.2" height="31.2"/><rect class="w" x="124.8" y="62.4" width="31.2" height="31.2"/><rect class="w" x="156" y="62.4" width="31.2" height="31.2"/><rect class="h" x="187.2" y="62.4" width="31.2" height="31.2"/>
<rect class="w" x="0" y="93.6" width="31.2" height="31.2"/><rect class="h" x="31.2" y="93.6" width="31.2" height="31.2"/><rect class="w" x="62.4" y="93.6" width="31.2" height="31.2"/><rect class="w" x="93.6" y="93.6" width="31.2" height="31.2"/><rect class="w" x="124.8" y="93.6" width="31.2" height="31.2"/><rect class="w" x="156" y="93.6" width="31.2" height="31.2"/><rect class="h" x="187.2" y="93.6" width="31.2" height="31.2"/>
<rect class="h" x="0" y="124.8" width="31.2" height="31.2"/><rect class="h" x="31.2" y="124.8" width="31.2" height="31.2"/><rect class="w" x="62.4" y="124.8" width="31.2" height="31.2"/><rect class="w" x="93.6" y="124.8" width="31.2" height="31.2"/><rect class="w" x="124.8" y="124.8" width="31.2" height="31.2"/><rect class="w" x="156" y="124.8" width="31.2" height="31.2"/><rect class="w" x="187.2" y="124.8" width="31.2" height="31.2"/>
<rect class="w" x="0" y="156" width="31.2" height="31.2"/><rect class="h" x="31.2" y="156" width="31.2" height="31.2"/><rect class="w" x="62.4" y="156" width="31.2" height="31.2"/><rect class="w" x="93.6" y="156" width="31.2" height="31.2"/><rect class="w" x="124.8" y="156" width="31.2" height="31.2"/><rect class="w" x="156" y="156" width="31.2" height="31.2"/><rect class="w" x="187.2" y="156" width="31.2" height="31.2"/>
<rect class="w" x="0" y="187.2" width="31.2" height="31.2"/><rect class="w" x="31.2" y="187.2" width="31.2" height="31.2"/><rect class="w" x="62.4" y="187.2" width="31.2" height="31.2"/><rect class="w" x="93.6" y="187.2" width="31.2" height="31.2"/><rect class="w" x="124.8" y="187.2" width="31.2" height="31.2"/><rect class="w" x="156" y="187.2" width="31.2" height="31.2"/><rect class="h" x="187.2" y="187.2" width="31.2" height="31.2"/>
<text class="n" x="109.2" y="55.7">43</text><text class="n" x="140.4" y="55.7">43</text>
</g>
</svg>
